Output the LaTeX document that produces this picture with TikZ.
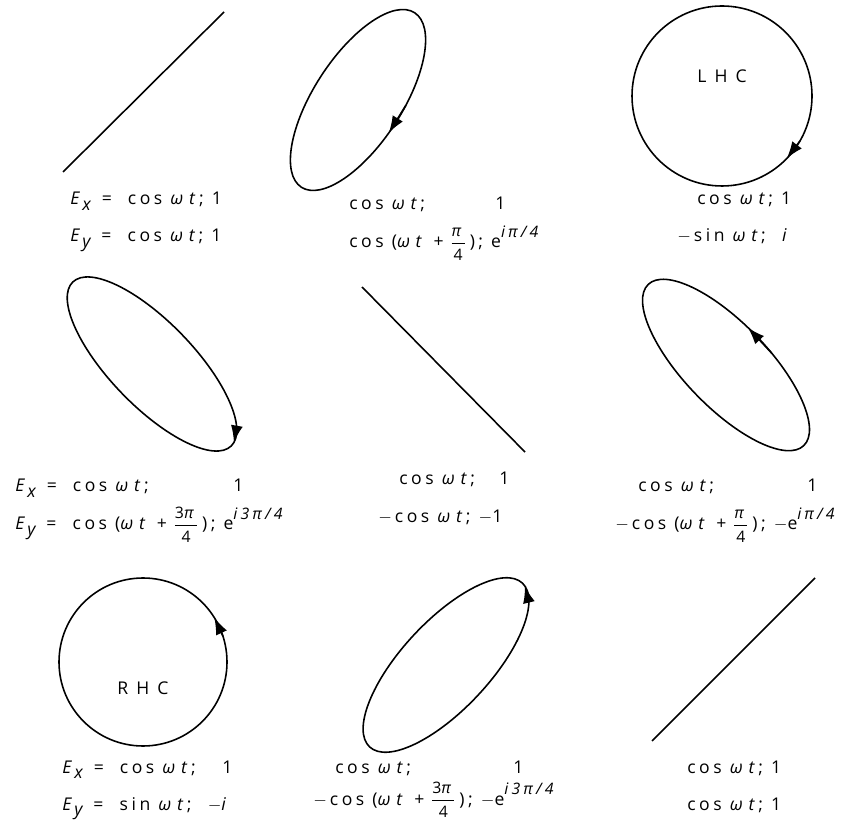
\documentclass[tikz,border=0pt]{standalone}
\usepackage{amsmath}
\usepackage{fontspec}
\setmainfont{Open Sans}[LetterSpace=20]
\usepackage{tikz}
\usetikzlibrary{arrows.meta}
\newcommand{\wt}{\textit{ω\,\,t}}
\newcommand{\Ex}{\textit{E\,\raisebox{-0.55ex}{x}}}
\newcommand{\Ey}{\textit{E\,\raisebox{-0.55ex}{y}}}
\newcommand{\eq}{\ \,=\ \ }
\newcommand{\frq}[1]{\,$\genfrac{}{}{0.5pt}{0}{\text{\small #1}}{\text{\small 4}}$\,}
\newcommand{\expo}[1]{\raisebox{1.1ex}{\small\itshape #1}}
\newcommand{\mns}{$-$}
\tikzset{
	wave/.style={line width=0.9pt},
	spin/.style={line width=0.9pt, -{Latex[length=3.4mm, width=2.4mm]}},
	lbl/.style={anchor=base west, inner sep=0pt, font=\fontsize{10}{12}\selectfont},
	tag/.style={inner sep=0pt, font=\fontsize{10}{12}\selectfont},
}
\begin{document}
\begin{tikzpicture}[x=0.02cm, y=0.02cm]
	\useasboundingbox (0,0) rectangle (854,821);
	% row 1
	\draw[wave] (63,649) -- (224,809);
	\begin{scope}[shift={(358,721)}, rotate=57]
		\draw[wave] (0,0) ellipse (104 and 44);
		\draw[spin] (-78:104 and 44) -- (-96:104 and 44);
	\end{scope}
	\begin{scope}[shift={(722,725)}]
		\draw[wave] (0,0) circle (90);
		\draw[spin] (-30:90) -- (-44:90);
		\node[tag] (lhc) at (0,20) {L H C};
	\end{scope}
	\node[lbl] (p1a) at (70,616) {\Ex\eq cos \wt; 1};
	\node[lbl] (p1b) at (70,579) {\Ey\eq cos \wt; 1};
	\node[lbl] (p2a) at (349,611) {cos \wt;};
	\node[lbl] (p2c) at (495,611) {1};
	\node[lbl] (p2b) at (349,573) {cos (\wt{} +\,\frq{\textit{π}}); e\expo{iπ/4}};
	\node[lbl] (p3a) at (697,616) {cos \wt; 1};
	\node[lbl] (p3b) at (677,579) {\mns\,sin \wt; \ \textit{i}};
	% row 2
	\begin{scope}[shift={(152,457)}, rotate=-46]
		\draw[wave] (0,0) ellipse (114 and 42);
		\draw[spin] (24:114 and 42) -- (6:114 and 42);
	\end{scope}
	\draw[wave] (362,534) -- (525,369);
	\begin{scope}[shift={(726,456)}, rotate=-46]
		\draw[wave] (0,0) ellipse (112 and 42);
		\draw[spin] (78:112 and 42) -- (96:112 and 42);
	\end{scope}
	\node[lbl] (p4a) at (15,329) {\Ex\eq cos \wt;};
	\node[lbl] (p4c) at (233,329) {1};
	\node[lbl] (p4b) at (15,291) {\Ey\eq cos (\wt{} +\,\frq{3\textit{π}}); e\expo{i3π/4}};
	\node[lbl] (p5a) at (399,336) {cos \wt;};
	\node[lbl] (p5c) at (499,336) {1};
	\node[lbl] (p5b) at (378,298) {\mns\,cos \wt; \mns1};
	\node[lbl] (p6a) at (638,329) {cos \wt;};
	\node[lbl] (p6c) at (807,329) {1};
	\node[lbl] (p6b) at (615,291) {\mns\,cos (\wt{} +\,\frq{\textit{π}}); \mns e\expo{iπ/4}};
	% row 3
	\begin{scope}[shift={(143,159)}]
		\draw[wave] (0,0) circle (84);
		\draw[spin] (18:84) -- (32:84);
		\node[tag] (rhc) at (0,-26) {R H C};
	\end{scope}
	\begin{scope}[shift={(446,156)}, rotate=47]
		\draw[wave] (0,0) ellipse (112 and 44);
		\draw[spin] (-24:112 and 44) -- (-5:112 and 44);
	\end{scope}
	\draw[wave] (652,80) -- (815,243);
	\node[lbl] (p7a) at (62,48) {\Ex\eq cos \wt;};
	\node[lbl] (p7c) at (222,48) {1};
	\node[lbl] (p7b) at (62,11) {\Ey\eq sin \wt; \ \mns\textit{i}};
	\node[lbl] (p8a) at (335,48) {cos \wt;};
	\node[lbl] (p8c) at (513,48) {1};
	\node[lbl] (p8b) at (313,16) {\mns\,cos (\wt{} +\,\frq{3\textit{π}}); \mns e\expo{i3π/4}};
	\node[lbl] (p9a) at (687,48) {cos \wt; 1};
	\node[lbl] (p9b) at (687,11) {cos \wt; 1};
\end{tikzpicture}
\end{document}
